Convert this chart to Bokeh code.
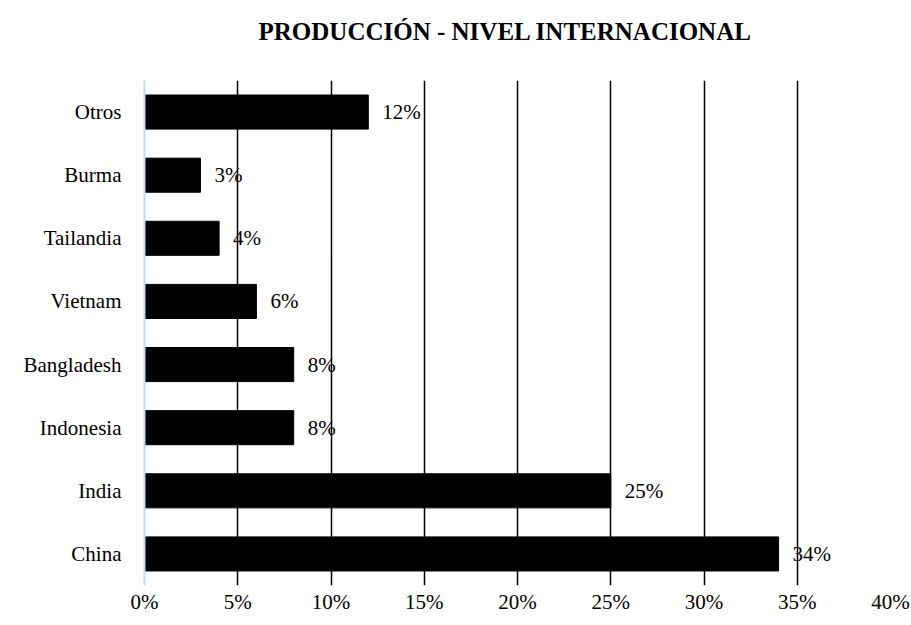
from bokeh.plotting import figure
from bokeh.models import FactorRange, Range1d, FixedTicker, ColumnDataSource, Title
from bokeh.core.properties import value
from bokeh.embed import file_html
from bokeh.resources import INLINE

categories = ["China", "India", "Indonesia", "Bangladesh", "Vietnam", "Tailandia", "Burma", "Otros"]
shares = [34, 25, 8, 8, 6, 4, 3, 12]
tick_values = [0, 5, 10, 15, 20, 25, 30, 35, 40]
tick_labels = [f"{t}%" for t in tick_values]
title_text = "PRODUCCIÓN - NIVEL INTERNACIONAL"

FONT = "Liberation Serif"

src = ColumnDataSource(dict(cat=categories, val=shares, lab=[f"{v}%" for v in shares]))

p = figure(width=911, height=625, output_backend="svg", toolbar_location=None, title=None,
           y_range=FactorRange(*categories, range_padding=0), x_range=Range1d(0, 40),
           min_border_left=144, min_border_right=21, min_border_top=80, min_border_bottom=40)
p.outline_line_color = None
p.background_fill_color = "white"
p.border_fill_color = "white"

# spacer (closest to the frame) and then the real title above it
spacer = Title(text=" ", text_font=FONT, text_font_size="25px", standoff=7)
p.add_layout(spacer, "above")
main_title = Title(text=title_text, align="left", offset=114, standoff=0,
                   text_font=FONT, text_font_size="25px", text_font_style="bold",
                   text_color="black")
p.add_layout(main_title, "above")

p.hbar(y="cat", right="val", left=0, height=0.54, source=src, color="black")
p.text(x="val", y="cat", text="lab", source=src, x_offset=14, text_baseline="middle",
       text_align="left", text_font=value(FONT), text_font_size="21px", text_color="black")

# x axis
p.xaxis.ticker = FixedTicker(ticks=tick_values)
p.xaxis.major_label_overrides = {t: l for t, l in zip(tick_values, tick_labels)}
p.xaxis.axis_line_color = None
p.xaxis.major_tick_line_color = None
p.xaxis.minor_tick_line_color = None
p.xaxis.major_label_text_font = FONT
p.xaxis.major_label_text_font_size = "21px"
p.xaxis.major_label_text_color = "black"
p.xaxis.major_label_standoff = -2

# y axis
p.yaxis.axis_line_color = "#c6d9f0"
p.yaxis.axis_line_width = 2
p.yaxis.major_tick_line_color = None
p.yaxis.minor_tick_line_color = None
p.yaxis.major_label_text_font = FONT
p.yaxis.major_label_text_font_size = "21px"
p.yaxis.major_label_text_color = "black"
p.yaxis.major_label_standoff = 17

p.ygrid.grid_line_color = None
p.xgrid.ticker = FixedTicker(ticks=tick_values[1:])
p.xgrid.grid_line_color = "black"
p.xgrid.grid_line_width = 1.5

open("out.html", "w").write(file_html(p, INLINE))
